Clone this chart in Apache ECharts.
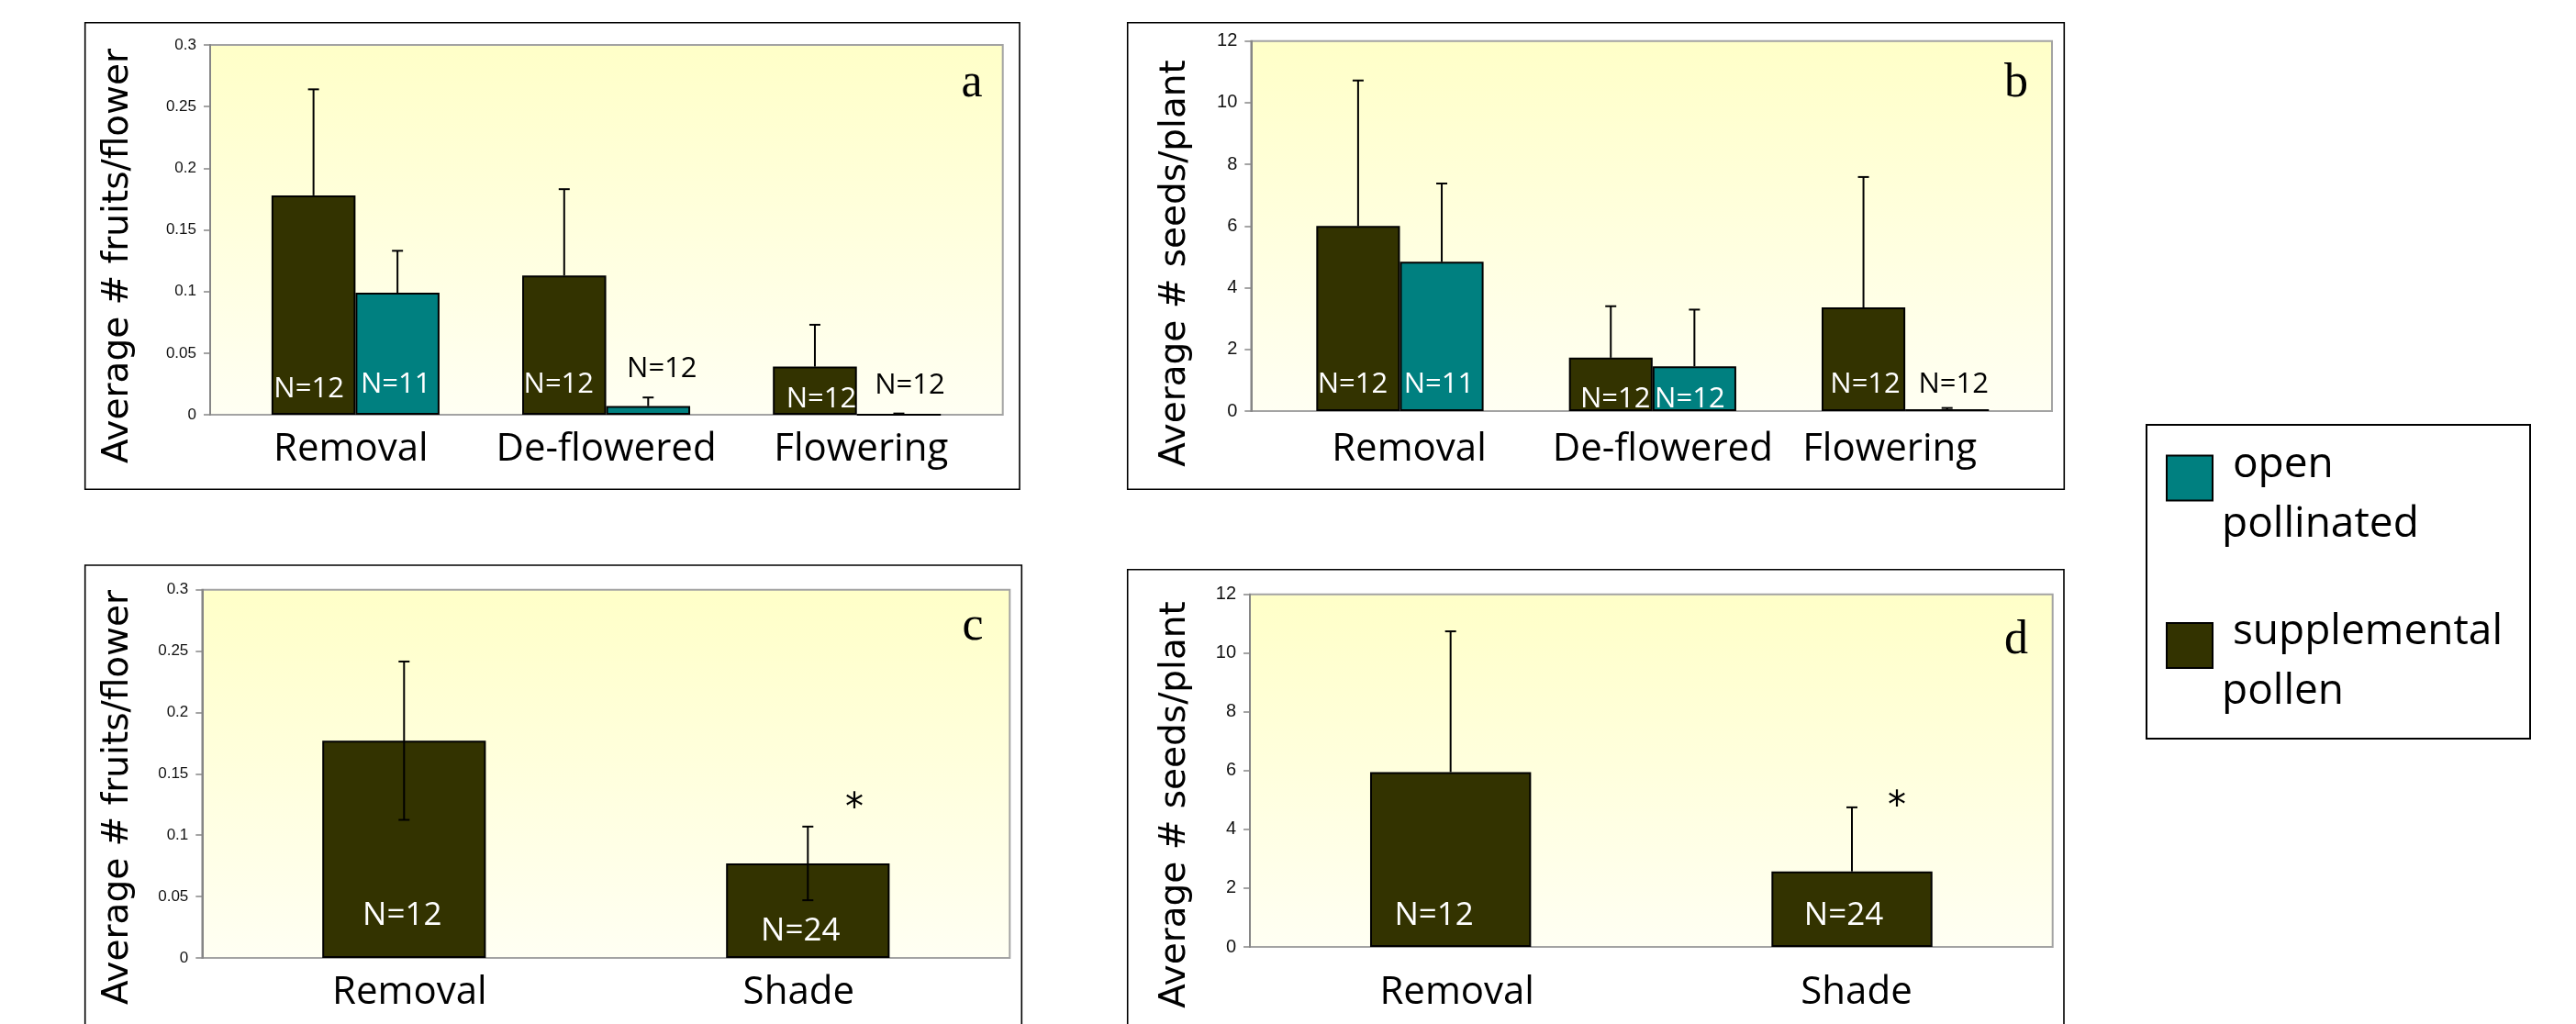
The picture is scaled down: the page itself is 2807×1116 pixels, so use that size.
<!DOCTYPE html>
<html>
<head>
<meta charset="utf-8">
<script src="https://cdn.jsdelivr.net/npm/echarts@6/dist/echarts.min.js"></script>
<style>
  html, body { margin: 0; padding: 0; background: #ffffff; }
  #chart { width: 2807px; height: 1116px; }
</style>
</head>
<body>
<div id="chart"></div>
<script>
// ---- Data ----------------------------------------------------------------
const treatmentsAB = ['Removal', 'De-flowered', 'Flowering'];
const treatmentsCD = ['Removal', 'Shade'];

// a: average fruits per flower
const fruitsSupplemental = [0.178, 0.113, 0.039];
const fruitsSupplementalErr = [0.086, 0.070, 0.034];
const fruitsOpen = [0.099, 0.007, 0];
const fruitsOpenErr = [0.034, 0.007, 0.001];
const fruitsSupplementalN = [12, 12, 12];
const fruitsOpenN = [11, 12, 12];

// b: average seeds per plant
const seedsSupplemental = [6.0, 1.73, 3.36];
const seedsSupplementalErr = [4.72, 1.67, 4.23];
const seedsOpen = [4.84, 1.45, 0.06];
const seedsOpenErr = [2.54, 1.84, 0.04];
const seedsSupplementalN = [12, 12, 12];
const seedsOpenN = [11, 12, 12];

// c: fruits per flower, removal vs shade (supplemental pollen)
const shadeFruits = [0.177, 0.077];
const shadeFruitsErr = [0.0645, 0.030];
// d: seeds per plant, removal vs shade (supplemental pollen)
const shadeSeeds = [5.95, 2.57];
const shadeSeedsErr = [4.79, 2.18];
const shadeN = [12, 24];

// y-axis scales and tick spacing
const fruitAxis = { min: 0, max: 0.3, interval: 0.05 };
const seedAxis = { min: 0, max: 12, interval: 2 };

const SERIES_OPEN = 'open pollinated';
const SERIES_SUPP = 'supplemental pollen';

// ---- Layout & styling ------------------------------------------------------
const OLIVE = '#333300';
const TEAL = '#008080';

const panels = [
  { plot: [229, 49, 863.7, 403],    bars: [250.8, 819.5], barFrac: 0.335, tickFont: 17, catMargin: 17,
    catShift: [-5, 0, 4.5], nFont: 31,
    frame: [92.7, 24.7, 1018.3, 508.6], title: 'Average # fruits/flower', titlePos: [129, 279],
    letter: 'a', letterPos: [1059, 91] },
  { plot: [1363.3, 44.7, 872.7, 403.3], bars: [1387.8, 826], barFrac: 0.331, tickFont: 20, catMargin: 21,
    catShift: [10, 11, -17], nFont: 31,
    frame: [1228.7, 24.7, 1020.6, 508.6], title: 'Average # seeds/plant', titlePos: [1281, 287],
    letter: 'b', letterPos: [2197, 91] },
  { plot: [220.3, 642.7, 880, 401.3], bars: [220.3, 880], barFrac: 0.405, tickFont: 17, catMargin: 17,
    catShift: [6, -10], nFont: 35,
    frame: [92.7, 616, 1020.6, 540], title: 'Average # fruits/flower', titlePos: [129, 869],
    letter: 'c', letterPos: [1060, 683] },
  { plot: [1362, 647.7, 874.7, 384.3], bars: [1362, 874.7], barFrac: 0.401, tickFont: 20, catMargin: 29,
    catShift: [7, 5], nFont: 35,
    frame: [1228.7, 620.7, 1020.3, 540], title: 'Average # seeds/plant', titlePos: [1281, 877],
    letter: 'd', letterPos: [2197, 698] }
];

// sample-size label placement: [dx, baseline height above zero]
const labelPlaceA = { supp: [[-5, 19], [-6, 24], [7, 8]], open: [[-2, 24], [15, 41], [12, 24]] };
const labelPlaceB = { supp: [[-6, 20], [5, 4], [2, 20]], open: [[-3, 20], [-5, 4], [7, 20]] };
const labelPlaceC = [[-2, 36], [-8, 19]];
const labelPlaceD = [[-18, 24], [-9, 24]];
const labelColorsOpenA = ['#fff', '#000', '#000'];
const labelColorsOpenB = ['#fff', '#fff', '#000'];

// ---- Builders ----------------------------------------------------------------
const plotFill = new echarts.graphic.LinearGradient(0, 0, 0, 1, [
  { offset: 0, color: '#FFFFC8' },
  { offset: 1, color: '#FFFFF3' }
]);

const grid = [], xAxis = [], yAxis = [], series = [], graphic = [];

panels.forEach((p, k) => {
  const [px, py, pw, ph] = p.plot;
  grid.push({ left: px, top: py, width: pw, height: ph, show: true,
    backgroundColor: plotFill, borderColor: '#a3a3a3', borderWidth: 2 });
  grid.push({ left: p.bars[0], top: py, width: p.bars[1], height: ph, show: false });
  const scale = (k % 2 === 0) ? fruitAxis : seedAxis;

  // per-category nudges of the treatment names
  const rich = {};
  p.catShift.forEach((s, i) => {
    rich['c' + i] = { fontFamily: 'Open Sans', fontSize: 42, color: '#000',
      padding: s >= 0 ? [0, 0, 0, 2 * s] : [0, -2 * s, 0, 0] };
  });

  xAxis.push({ gridIndex: 2 * k, type: 'value', show: false });
  yAxis.push({ gridIndex: 2 * k, type: 'value', show: false, min: 0, max: 1 });
  xAxis.push({
    gridIndex: 2 * k + 1, type: 'category', data: k < 2 ? treatmentsAB : treatmentsCD,
    axisLine: { show: false }, axisTick: { show: false },
    axisLabel: { interval: 0, margin: p.catMargin, color: '#000', fontFamily: 'Open Sans', fontSize: 42,
      formatter: (value, index) => '{c' + index + '|' + value + '}', rich }
  });
  yAxis.push({
    gridIndex: 2 * k + 1, type: 'value', min: scale.min, max: scale.max, interval: scale.interval,
    offset: p.bars[0] - px,
    axisLine: { show: true, lineStyle: { color: '#868686', width: 2 } },
    axisTick: { show: true, length: 7, lineStyle: { color: '#868686', width: 1.5 } },
    splitLine: { show: false },
    axisLabel: { margin: 15, color: '#111', fontFamily: 'Liberation Sans', fontSize: p.tickFont }
  });

  // frame around each panel
  graphic.push({ type: 'rect', z: -10, shape: { x: p.frame[0], y: p.frame[1], width: p.frame[2], height: p.frame[3] },
    style: { fill: null, stroke: '#000', lineWidth: 1.6 } });
  // rotated y-axis title
  graphic.push({ type: 'text', x: p.titlePos[0], y: p.titlePos[1], rotation: Math.PI / 2,
    style: { text: p.title, fill: '#000', font: '39px "DejaVu Sans"', textAlign: 'center', textVerticalAlign: 'middle' } });
  // panel letter
  graphic.push({ type: 'text', x: p.letterPos[0], y: p.letterPos[1],
    style: { text: p.letter, fill: '#000', font: '52px "Liberation Serif"', textAlign: 'center', textVerticalAlign: 'middle' } });
});

function barData(values, ns, place, fontSize, colors) {
  return values.map((v, i) => ({
    value: v,
    label: {
      show: true, position: 'insideBottom', distance: 0,
      formatter: 'N=' + ns[i],
      color: colors ? colors[i] : '#fff',
      offset: [place[i][0], -(place[i][1] - 0.21 * fontSize)],
      fontFamily: 'Open Sans', fontSize
    }
  }));
}

function barSeries(name, axis, color, frac, data) {
  return {
    name, type: 'bar', xAxisIndex: axis, yAxisIndex: axis,
    barWidth: (frac * 100) + '%', barGap: '0%',
    itemStyle: { color, borderColor: '#000', borderWidth: 2 },
    data, z: 2, silent: true
  };
}

function errorSeries(axis, values, errs, slot, frac, twoSided) {
  return {
    type: 'custom', xAxisIndex: axis, yAxisIndex: axis, z: 5, silent: true,
    data: values.map((v, i) => [i, v, v + errs[i], twoSided ? v - errs[i] : v]),
    encode: { x: 0, y: [1, 2, 3] },
    renderItem(params, api) {
      const i = api.value(0);
      const band = api.size([1, 0])[0];
      const cx = api.coord([i, 0])[0] + slot * band * frac;
      const yHi = api.coord([i, api.value(2)])[1];
      const yLo = api.coord([i, api.value(3)])[1];
      const cap = 6;
      const style = { stroke: '#000', lineWidth: 2 };
      const children = [
        { type: 'line', shape: { x1: cx, y1: yLo, x2: cx, y2: yHi }, style },
        { type: 'line', shape: { x1: cx - cap, y1: yHi, x2: cx + cap, y2: yHi }, style }
      ];
      if (twoSided) children.push({ type: 'line', shape: { x1: cx - cap, y1: yLo, x2: cx + cap, y2: yLo }, style });
      return { type: 'group', children };
    }
  };
}

// a
series.push(barSeries(SERIES_SUPP, 1, OLIVE, panels[0].barFrac,
  barData(fruitsSupplemental, fruitsSupplementalN, labelPlaceA.supp, panels[0].nFont)));
series.push(barSeries(SERIES_OPEN, 1, TEAL, panels[0].barFrac,
  barData(fruitsOpen, fruitsOpenN, labelPlaceA.open, panels[0].nFont, labelColorsOpenA)));
series.push(errorSeries(1, fruitsSupplemental, fruitsSupplementalErr, -0.5, panels[0].barFrac, false));
series.push(errorSeries(1, fruitsOpen, fruitsOpenErr, 0.5, panels[0].barFrac, false));
// b
series.push(barSeries(SERIES_SUPP, 3, OLIVE, panels[1].barFrac,
  barData(seedsSupplemental, seedsSupplementalN, labelPlaceB.supp, panels[1].nFont)));
series.push(barSeries(SERIES_OPEN, 3, TEAL, panels[1].barFrac,
  barData(seedsOpen, seedsOpenN, labelPlaceB.open, panels[1].nFont, labelColorsOpenB)));
series.push(errorSeries(3, seedsSupplemental, seedsSupplementalErr, -0.5, panels[1].barFrac, false));
series.push(errorSeries(3, seedsOpen, seedsOpenErr, 0.5, panels[1].barFrac, false));
// c
series.push(barSeries(SERIES_SUPP, 5, OLIVE, panels[2].barFrac,
  barData(shadeFruits, shadeN, labelPlaceC, panels[2].nFont)));
series.push(errorSeries(5, shadeFruits, shadeFruitsErr, 0, panels[2].barFrac, true));
// d
series.push(barSeries(SERIES_SUPP, 7, OLIVE, panels[3].barFrac,
  barData(shadeSeeds, shadeN, labelPlaceD, panels[3].nFont)));
series.push(errorSeries(7, shadeSeeds, shadeSeedsErr, 0, panels[3].barFrac, false));

// significance marks above the shade bars
graphic.push({ type: 'text', x: 931, y: 883,
  style: { text: '*', fill: '#000', font: '40px "DejaVu Sans"', textAlign: 'center', textVerticalAlign: 'middle' } });
graphic.push({ type: 'text', x: 2067, y: 881,
  style: { text: '*', fill: '#000', font: '40px "DejaVu Sans"', textAlign: 'center', textVerticalAlign: 'middle' } });

// legend box
graphic.push({ type: 'rect', z: -10, shape: { x: 2339, y: 463, width: 418, height: 342 },
  style: { fill: null, stroke: '#000', lineWidth: 2 } });

const chart = echarts.init(document.getElementById('chart'), null, { renderer: 'canvas' });
chart.setOption({
  animation: false,
  backgroundColor: '#ffffff',
  grid, xAxis, yAxis, series, graphic,
  legend: {
    data: [SERIES_OPEN, SERIES_SUPP],
    orient: 'vertical', left: 2355, top: 433,
    itemWidth: 50, itemHeight: 49, itemGap: 26, icon: 'rect',
    selectedMode: false,
    itemStyle: { borderColor: '#000', borderWidth: 2 },
    formatter: name => {
      const words = name.split(' ');
      return '{s| }\n{t| ' + words[0] + '}\n{t|' + words[1] + '}';
    },
    textStyle: {
      fontFamily: 'Open Sans', fontSize: 46, color: '#000',
      rich: {
        s: { fontSize: 8, lineHeight: 36, height: 36 },
        t: { fontFamily: 'Open Sans', fontSize: 46, lineHeight: 65, color: '#000', padding: [0, 0, 0, 5] }
      }
    }
  }
});
</script>
</body>
</html>
